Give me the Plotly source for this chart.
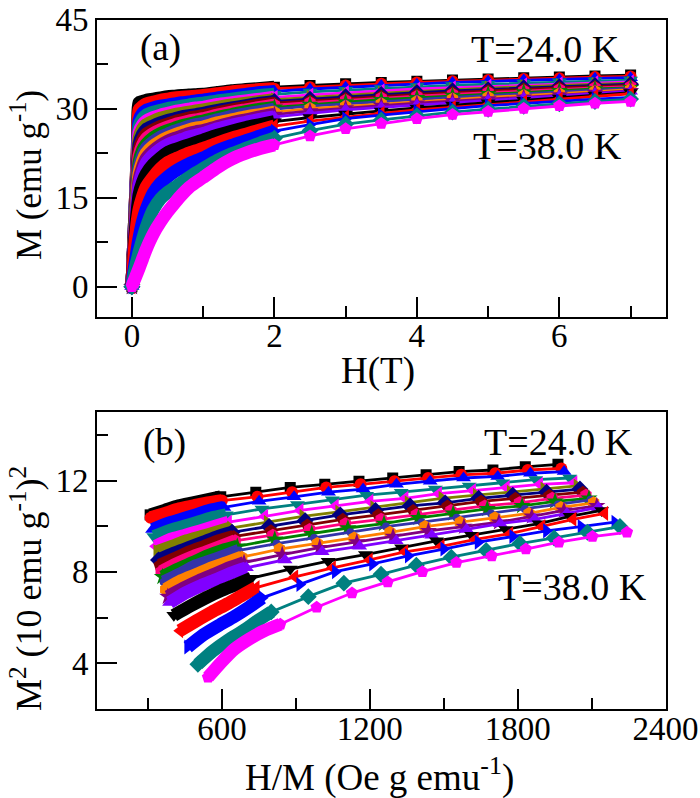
import plotly.graph_objects as go

# field values (T), same grid for every temperature
H_T = [0, .02, .04, .06, .08, .1, .15, .2, .3, .4, .5, .6, .7, .8, .9, 1,
       1.2, 1.4, 1.6, 1.8, 2, 2.5, 3, 3.5, 4, 4.5, 5, 5.5, 6, 6.5, 7]

# magnetisation (emu/g), 24.0 K first and 38.0 K last
M_01 = [0, 6, 12, 18, 25, 31, 31.2, 31.4, 31.6, 31.8, 32.0, 32.1, 32.2, 32.3, 32.35, 32.4,
        32.7, 33.0, 33.2, 33.4, 33.6, 33.9, 34.2, 34.4, 34.6, 34.8, 35.0, 35.2, 35.3, 35.5, 35.65]
M_02 = [0, 6, 12, 18, 24, 29.8, 30.4, 30.8, 31.1, 31.4, 31.6, 31.8, 31.9, 32.0, 32.1, 32.2,
        32.5, 32.8, 33.0, 33.2, 33.35, 33.6, 33.9, 34.2, 34.4, 34.6, 34.8, 35.0, 35.1, 35.3, 35.4]
M_03 = [0, 6, 12, 17.5, 23, 28, 29.2, 29.7, 30.1, 30.4, 30.6, 30.8, 31.0, 31.1, 31.3, 31.4,
        31.8, 32.1, 32.4, 32.7, 32.9, 33.3, 33.6, 33.9, 34.1, 34.4, 34.6, 34.8, 34.9, 35.1, 35.2]
M_04 = [0, 6, 11.5, 17, 22.5, 27, 28.3, 28.9, 29.4, 29.7, 30.0, 30.2, 30.4, 30.6, 30.8, 30.9,
        31.3, 31.6, 31.9, 32.2, 32.4, 32.8, 33.1, 33.4, 33.7, 33.9, 34.1, 34.3, 34.5, 34.7, 34.8]
M_05 = [0, 5.5, 11, 16.5, 22, 26, 27.3, 27.9, 28.5, 28.9, 29.2, 29.5, 29.7, 29.9, 30.1, 30.2,
        30.7, 31.0, 31.3, 31.6, 31.9, 32.3, 32.7, 33.0, 33.3, 33.5, 33.8, 34.0, 34.2, 34.4, 34.5]
M_06 = [0, 5.5, 11, 16, 21, 25, 26.6, 27.3, 27.9, 28.4, 28.7, 29.0, 29.2, 29.4, 29.6, 29.8,
        30.2, 30.6, 30.9, 31.2, 31.5, 31.9, 32.3, 32.6, 32.9, 33.2, 33.5, 33.7, 33.9, 34.1, 34.3]
M_07 = [0, 5.5, 10.5, 15.5, 20, 24, 25.7, 26.5, 27.1, 27.6, 28.0, 28.3, 28.6, 28.8, 29.0, 29.2,
        29.7, 30.1, 30.5, 30.9, 31.2, 31.6, 32.0, 32.4, 32.7, 33.0, 33.2, 33.5, 33.7, 33.9, 34.1]
M_08 = [0, 5.5, 10.5, 15, 19.5, 23, 24.8, 25.7, 26.4, 27.0, 27.4, 27.8, 28.1, 28.4, 28.6, 28.8,
        29.3, 29.8, 30.2, 30.6, 30.9, 31.3, 31.7, 32.1, 32.4, 32.7, 33.0, 33.3, 33.5, 33.7, 33.9]
M_09 = [0, 5, 10, 14.5, 18.5, 22, 23.9, 24.9, 25.8, 26.4, 26.9, 27.3, 27.6, 27.9, 28.1, 28.3,
        28.9, 29.4, 29.8, 30.2, 30.6, 31.0, 31.4, 31.8, 32.1, 32.4, 32.7, 33.0, 33.2, 33.5, 33.7]
M_10 = [0, 5, 10, 14, 18, 21, 23, 24, 25.1, 25.8, 26.3, 26.7, 27.1, 27.4, 27.7, 27.9,
        28.5, 29.0, 29.5, 29.9, 30.2, 30.7, 31.1, 31.5, 31.8, 32.2, 32.5, 32.8, 33.0, 33.3, 33.5]
M_11 = [0, 5, 9.5, 13.5, 17, 20, 22.1, 23.3, 24.4, 25.2, 25.7, 26.2, 26.6, 27.0, 27.3, 27.5,
        28.1, 28.7, 29.1, 29.5, 29.9, 30.4, 30.8, 31.2, 31.6, 31.9, 32.2, 32.5, 32.8, 33.1, 33.4]
M_12 = [0, 5, 9, 13, 16.5, 19, 21.2, 22.5, 23.7, 24.5, 25.1, 25.6, 26.0, 26.4, 26.7, 26.9,
        27.6, 28.1, 28.6, 29.0, 29.4, 30.0, 30.4, 30.8, 31.2, 31.6, 31.9, 32.2, 32.5, 32.9, 33.2]
M_13 = [0, 4.5, 8.5, 12.5, 15.5, 18, 20.2, 21.6, 22.9, 23.8, 24.5, 25.0, 25.4, 25.8, 26.1, 26.3,
        27.0, 27.6, 28.1, 28.6, 29.0, 29.6, 30.1, 30.5, 30.9, 31.3, 31.6, 31.9, 32.3, 32.7, 33.0]
M_14 = [0, 4.5, 8.5, 12, 15, 17, 19.3, 20.8, 22.2, 23.2, 23.9, 24.4, 24.8, 25.2, 25.5, 25.8,
        26.6, 27.2, 27.7, 28.2, 28.6, 29.2, 29.8, 30.2, 30.6, 31.0, 31.4, 31.8, 32.1, 32.5, 32.9]
M_15 = [0, 4, 8, 11, 13.5, 15.5, 17.6, 19.0, 20.6, 21.7, 22.6, 23.1, 23.5, 23.9, 24.3, 24.7,
        25.5, 26.2, 26.8, 27.3, 27.8, 28.5, 29.1, 29.6, 30.1, 30.6, 31.0, 31.4, 31.8, 32.3, 32.7]
M_16 = [0, 3.5, 7, 9.5, 11.5, 13, 15.2, 16.8, 18.5, 19.9, 20.9, 21.5, 22.0, 22.5, 22.9, 23.3,
        24.2, 25.0, 25.7, 26.4, 27.05, 27.9, 28.6, 29.2, 29.8, 30.2, 30.7, 31.1, 31.6, 32.1, 32.5]
M_17 = [0, 2, 3.6, 5.2, 6.8, 8.2, 11, 13, 15.8, 17.4, 18.5, 19.4, 20.1, 20.7, 21.2, 21.7,
        22.9, 23.8, 24.6, 25.4, 26.2, 27.3, 28.3, 28.9, 29.5, 30.0, 30.5, 30.9, 31.3, 31.6, 31.9]
M_18 = [0, 1.4, 2.7, 3.9, 4.8, 5.8, 8, 10, 13, 14.8, 15.9, 16.7, 17.6, 18.4, 19.2, 19.9,
        21.3, 22.4, 23.3, 24.2, 25.0, 26.3, 27.4, 28.1, 28.8, 29.4, 29.9, 30.4, 30.8, 31.2, 31.6]
M_19 = [0, 0.7, 1.3, 1.9, 2.5, 3.1, 4.7, 6.3, 8.9, 10.9, 12.6, 14.1, 15.5, 16.7, 17.6, 18.4,
        20.1, 21.5, 22.5, 23.3, 23.9, 25.4, 26.6, 27.5, 28.3, 29.0, 29.5, 30.0, 30.5, 30.9, 31.2]

all_M = [M_01, M_02, M_03, M_04, M_05, M_06, M_07, M_08, M_09, M_10,
         M_11, M_12, M_13, M_14, M_15, M_16, M_17, M_18, M_19]

colors = ["#000000", "#FF0000", "#0000FF", "#008080", "#FF00FF", "#808000", "#000080",
          "#800000", "#FF0080", "#008000", "#3333AA", "#FF8000", "#800080", "#8000FF",
          "#000000", "#FF0000", "#0000FF", "#008080", "#FF00FF"]
symbols = ["square", "circle", "triangle-up", "triangle-down", "triangle-left", "triangle-right",
           "diamond", "pentagon", "hexagon", "star", "circle", "hexagon", "star", "triangle-up",
           "triangle-down", "triangle-left", "triangle-right", "diamond", "pentagon"]
marker_px = [11, 12, 13, 13, 13, 13, 13, 13, 13, 13, 8, 13, 13, 13, 13, 13, 13, 13, 13]

SERIF = "Liberation Serif"
fig = go.Figure()

for M, color, symbol, px_size in zip(all_M, colors, symbols, marker_px):
    # markers only show where they stand apart, the steps below 2 T merge into a band
    sizes_a = [px_size if h >= 2 or h == 0 else 0 for h in H_T]
    sizes_b = [px_size if h >= 2 or h == 1 else 0 for h in H_T if h >= 1]

    # panel a: M against H
    fig.add_trace(go.Scatter(x=H_T, y=M, mode="lines+markers", xaxis="x", yaxis="y",
                             line=dict(color=color, width=2.8),
                             marker=dict(color=color, symbol=symbol, size=sizes_a,
                                         opacity=1, line_width=0)))
    band = [i for i, h in enumerate(H_T) if h <= 2]
    fig.add_trace(go.Scatter(x=[H_T[i] for i in band], y=[M[i] for i in band], mode="lines",
                             xaxis="x", yaxis="y",
                             line=dict(color=color, width=13, shape="spline", smoothing=0.6)))

    # panel b: Arrott plot from the same data, only from 1 T up
    above = [i for i, h in enumerate(H_T) if h >= 1]
    hm = [H_T[i] * 1e4 / M[i] for i in above]
    m2 = [M[i] ** 2 / 100 for i in above]
    fig.add_trace(go.Scatter(x=hm, y=m2, mode="lines+markers", xaxis="x2", yaxis="y2",
                             line=dict(color=color, width=2.8),
                             marker=dict(color=color, symbol=symbol, size=sizes_b,
                                         opacity=1, line_width=0)))
    n_band = len([i for i in above if H_T[i] <= 2])
    fig.add_trace(go.Scatter(x=hm[:n_band], y=m2[:n_band], mode="lines",
                             xaxis="x2", yaxis="y2",
                             line=dict(color=color, width=13, shape="spline", smoothing=0.6)))

axis_style = dict(showgrid=False, zeroline=False, showline=True, mirror=True, linecolor="black",
                  linewidth=2, ticks="inside", tickcolor="black", tickwidth=2, ticklen=20,
                  automargin=False, tickfont=dict(family=SERIF, size=33, color="black"))


def minor_ticks(step):
    return dict(dtick=step, ticks="inside", ticklen=11, tickcolor="black", tickwidth=2)


# text, centre x and y in page pixels, size, angle
notes = [
    ("(a)", 160, 48, 37, 0),
    ("T=24.0 K", 545, 49, 38, 0),
    ("T=38.0 K", 547, 146, 38, 0),
    ("(b)", 164, 443, 37, 0),
    ("T=24.0 K", 558, 442, 38, 0),
    ("T=38.0 K", 572, 587, 38, 0),
    ("H(T)", 378, 371, 37, 0),
    ("H/M (Oe g emu<sup>-1</sup>)", 380, 775, 37, 0),
    ("M (emu g<sup>-1</sup>)", 26, 175, 35, -90),
    ("M<sup>2</sup> (10 emu g<sup>-1</sup>)<sup>2</sup>", 26, 589, 36, -90),
]

fig.update_layout(
    width=700, height=798, margin=dict(l=0, r=0, t=0, b=0),
    paper_bgcolor="white", plot_bgcolor="white", showlegend=False,
    font=dict(family=SERIF, color="black"),
    xaxis=dict(axis_style, domain=[97 / 700, 665.5 / 700], anchor="y", range=[-0.49, 7.49],
               dtick=2, tick0=0, minor=minor_ticks(1), ticklabelstandoff=-11),
    yaxis=dict(axis_style, domain=[1 - 316.5 / 798, 1 - 19.5 / 798], anchor="x", range=[-5, 45],
               dtick=15, tick0=0, minor=minor_ticks(7.5)),
    xaxis2=dict(axis_style, domain=[97 / 700, 665.5 / 700], anchor="y2", range=[93, 2400],
                dtick=600, tick0=0, minor=minor_ticks(300), ticklabelstandoff=-11),
    yaxis2=dict(axis_style, domain=[1 - 709 / 798, 1 - 412 / 798], anchor="x2", range=[2, 15],
                dtick=4, tick0=0, minor=minor_ticks(2)),
    annotations=[dict(text=t, x=px / 700, y=1 - py / 798, xref="paper", yref="paper",
                      xanchor="center", yanchor="middle", showarrow=False,
                      font=dict(size=s), textangle=a) for t, px, py, s, a in notes],
)

fig.write_html("out.html", config=dict(displayModeBar=False),
               post_script="document.body.style.margin='0';")
